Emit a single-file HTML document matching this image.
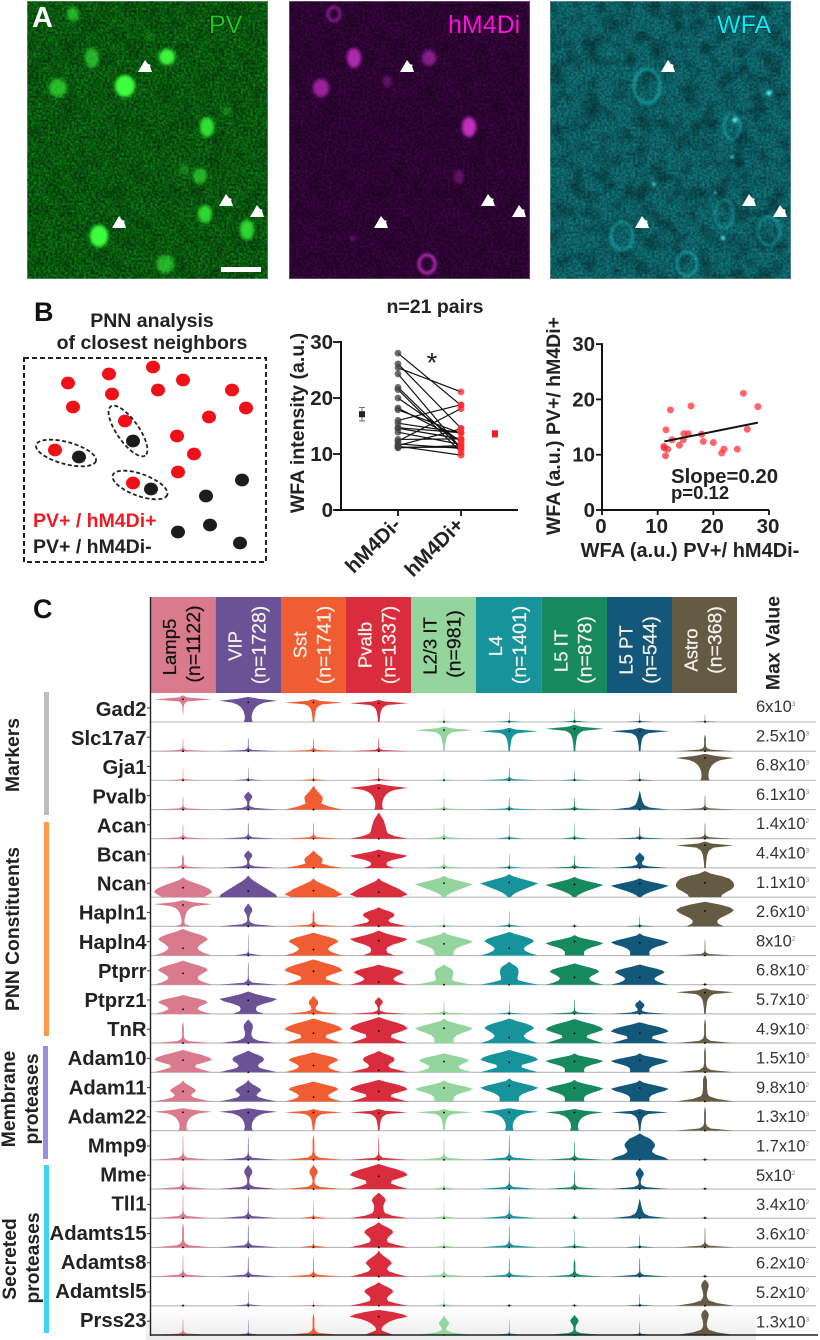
<!DOCTYPE html>
<html lang="en">
<head>
<meta charset="utf-8">
<title>PNN analysis figure</title>
<style>
  html, body { margin: 0; padding: 0; background: #fff; }
  svg { display: block; font-family: "Liberation Sans", Arial, sans-serif; }
  .b { font-weight: 700; fill: #222; }
</style>
</head>
<body>
<svg id="fig" xmlns="http://www.w3.org/2000/svg" width="820" height="1340" viewBox="0 0 820 1340">
  <defs>
    <filter id="noise-green" x="0" y="0" width="1" height="1" color-interpolation-filters="sRGB">
      <feTurbulence type="fractalNoise" baseFrequency="0.42" numOctaves="2" seed="3"/>
      <feColorMatrix type="matrix" values="0 0 0 0 0.035  0.62 0 0 0 0.04  0 0 0 0 0.06  0 0 0 0 1"/>
    </filter>
    <filter id="noise-magenta" x="0" y="0" width="1" height="1" color-interpolation-filters="sRGB">
      <feTurbulence type="fractalNoise" baseFrequency="0.42" numOctaves="2" seed="8"/>
      <feColorMatrix type="matrix" values="0.32 0 0 0 0.02  0 0 0 0 0.015  0.34 0 0 0 0.035  0 0 0 0 1"/>
    </filter>
    <filter id="noise-cyan" x="0" y="0" width="1" height="1" color-interpolation-filters="sRGB">
      <feTurbulence type="fractalNoise" baseFrequency="0.42" numOctaves="2" seed="14"/>
      <feColorMatrix type="matrix" values="0 0 0 0 0.05  0.42 0 0 0 0.17  0.42 0 0 0 0.19  0 0 0 0 1"/>
    </filter>
    <filter id="blotch" x="0" y="0" width="1" height="1" color-interpolation-filters="sRGB">
      <feTurbulence type="fractalNoise" baseFrequency="0.06" numOctaves="2" seed="21"/>
      <feColorMatrix type="matrix" values="0 0 0 0 0  0 0 0 0 0  0 0 0 0 0  2.4 0 0 0 -1.05"/>
    </filter>
    <filter id="blur-cell" x="-60%" y="-60%" width="220%" height="220%"><feGaussianBlur stdDeviation="1.7"/></filter>
    <filter id="blur-ring" x="-40%" y="-40%" width="180%" height="180%"><feGaussianBlur stdDeviation="1.2"/></filter>
    <clipPath id="clip-panel"><rect x="0" y="0" width="241" height="278"/></clipPath>
    <linearGradient id="bottom-shade" x1="0" y1="0" x2="0" y2="1">
      <stop offset="0" stop-color="#ffffff"/><stop offset="1" stop-color="#ececec"/>
    </linearGradient>
  </defs>

  <!-- PANEL A -->
  <g id="panel-a"></g>
  <text x="32" y="27" font-size="29" font-weight="700" fill="#fff">A</text>
  <text x="209" y="33" font-size="25" fill="#20c825" stroke="#021005" stroke-width="1" paint-order="stroke">PV</text>
  <text x="448" y="33" font-size="25" fill="#ff10e0" stroke="#200020" stroke-width="1" paint-order="stroke">hM4Di</text>
  <text x="717" y="33" font-size="25" fill="#0ee8f2" stroke="#02282c" stroke-width="1" paint-order="stroke">WFA</text>
  <rect x="221" y="267" width="40" height="5" fill="#fff"/>

  <!-- PANEL B schematic -->
  <text x="34" y="321" font-size="27" font-weight="700" fill="#111">B</text>
  <text class="b" x="152" y="327" font-size="19.5" text-anchor="middle">PNN analysis</text>
  <text class="b" x="152" y="349" font-size="19.5" text-anchor="middle">of closest neighbors</text>
  <rect x="24" y="358" width="242" height="204" fill="none" stroke="#222" stroke-width="2" stroke-dasharray="5 3"/>
  <g id="schematic"></g>
  <text x="33" y="527" font-size="19.5" font-weight="700" fill="#ee1c25">PV+ / hM4Di+</text>
  <text x="33" y="553" font-size="19.5" font-weight="700" fill="#222">PV+ / hM4Di-</text>

  <!-- paired chart -->
  <text class="b" x="435" y="313" font-size="19.5" text-anchor="middle">n=21 pairs</text>
  <g id="paired"></g>
  <text transform="translate(304 423) rotate(-90)" font-size="19.5" font-weight="700" fill="#222" text-anchor="middle">WFA intensity (a.u.)</text>
  <text x="432" y="372" font-size="28" font-weight="400" fill="#222" text-anchor="middle">*</text>

  <!-- scatter chart -->
  <g id="scatter"></g>
  <text transform="translate(560 426) rotate(-90)" font-size="19.5" font-weight="700" fill="#222" text-anchor="middle">WFA (a.u.) PV+/ hM4Di+</text>
  <text class="b" x="690" y="557" font-size="20" text-anchor="middle">WFA (a.u.) PV+/ hM4Di-</text>
  <text class="b" x="671" y="483" font-size="20.4">Slope=0.20</text>
  <text class="b" x="671" y="499" font-size="18.5">p=0.12</text>

  <!-- PANEL C -->
  <text x="33" y="618" font-size="27" font-weight="700" fill="#111">C</text>
  <rect x="146" y="1306" width="610" height="34" fill="url(#bottom-shade)"/>
  <g id="violins"></g>
  <text transform="translate(779.5 643) rotate(-90)" font-size="19.5" font-weight="700" fill="#222" text-anchor="middle">Max Value</text>

  <rect x="44" y="692" width="5" height="123" fill="#bdbdbd"/>
  <rect x="44" y="822" width="5" height="214" fill="#fd9a4e"/>
  <rect x="43" y="1046" width="5" height="113" fill="#9a8ee0"/>
  <rect x="44" y="1165" width="5" height="168" fill="#3fd3f5"/>
  <text class="b" transform="translate(19 755) rotate(-90)" font-size="19.3" text-anchor="middle">Markers</text>
  <text class="b" transform="translate(19 929) rotate(-90)" font-size="19.3" text-anchor="middle">PNN Constituents</text>
  <text class="b" transform="translate(15 1099) rotate(-90)" font-size="19.3" text-anchor="middle">Membrane</text>
  <text class="b" transform="translate(38 1099) rotate(-90)" font-size="19.3" text-anchor="middle">proteases</text>
  <text class="b" transform="translate(16 1259) rotate(-90)" font-size="19.3" text-anchor="middle">Secreted</text>
  <text class="b" transform="translate(39 1258) rotate(-90)" font-size="19.3" text-anchor="middle">proteases</text>

<script>
/* ---------- paired / scatter data ---------- */
const wfaNegative = [25.4,28,16,12.3,11.5,26.1,14.7,15.5,17.9,12.6,14.6,18.2,20,13.9,11.1,11.8,11.2,21.9,24.3,21.5,11.4];
const wfaPositive = [21.1,18.7,18.8,18.1,14.5,14.6,13.8,13.8,13.7,12.7,12.7,12.4,12.2,11.7,11.5,11,11.2,11,11,10.3,9.8];
const meanValues = [17.1,13.6];
const meanErrors = [1.2,0.6];
const pairCategories = ['hM4Di-','hM4Di+'];
const axisTicks = [0,10,20,30];
const fitLineX = [11.2,28];
const fitLineY = [12.4,15.8];

/* ---------- violin data ---------- */
const cellTypes = ['Lamp5','VIP','Sst','Pvalb','L2/3 IT','L4','L5 IT','L5 PT','Astro'];
const cellCounts = ['(n=1122)','(n=1728)','(n=1741)','(n=1337)','(n=981)','(n=1401)','(n=878)','(n=544)','(n=368)'];
const genes = ['Gad2','Slc17a7','Gja1','Pvalb','Acan','Bcan','Ncan','Hapln1','Hapln4','Ptprr','Ptprz1','TnR','Adam10','Adam11','Adam22','Mmp9','Mme','Tll1','Adamts15','Adamts8','Adamtsl5','Prss23'];
const maxValueBases = ['6x10','2.5x10','6.8x10','6.1x10','1.4x10','4.4x10','1.1x10','2.6x10','8x10','6.8x10','5.7x10','4.9x10','1.5x10','9.8x10','1.3x10','1.7x10','5x10','3.4x10','3.6x10','6.2x10','5.2x10','1.3x10'];
const maxValueExps = [3,3,3,3,2,3,3,3,2,2,2,2,3,2,3,2,2,2,2,2,2,3];

/* density of cells at evenly spaced expression levels (bottom to top) */
const densityNone = [0.12,0.01,0];
const densityFaint = [0.5,0.04,0.012,0.008,0.008,0.008,0.008,0.008,0.006,0.006,0.004,0];
const densitySpike = [1,0.14,0.04,0.018,0.014,0.012,0.012,0.012,0.01,0.01,0.008,0];
const densitySpikeBold = [1,0.2,0.07,0.04,0.03,0.03,0.03,0.03,0.03,0.025,0.015,0];
const densityBulb = [1,0.22,0.06,0.035,0.035,0.05,0.08,0.13,0.14,0.11,0.05,0];
const densityBulbFat = [1,0.3,0.1,0.07,0.09,0.14,0.16,0.15,0.1,0.04,0];
const densityBulbDia = [1,0.32,0.09,0.07,0.12,0.18,0.15,0.09,0.03,0];
const densityBulbTall = [1,0.42,0.14,0.08,0.06,0.07,0.09,0.12,0.13,0.09,0];
const densityColumn = [1,0.36,0.17,0.12,0.11,0.12,0.15,0.16,0.14,0.07,0];
const densityThickCol = [1,0.42,0.14,0.09,0.08,0.07,0.07,0.07,0.07,0.05,0];
const densityCone = [1,0.34,0.17,0.12,0.09,0.07,0.05,0.035,0.02,0];
const densityTower = [1,0.55,0.32,0.27,0.25,0.23,0.2,0.17,0.12,0.06,0];
const densityPillar = [1,0.46,0.22,0.17,0.16,0.16,0.2,0.24,0.2,0.1,0];
const densityDome = [1,0.55,0.27,0.3,0.32,0.25,0.15,0.07,0];
const densityDomeA = [1,0.62,0.32,0.28,0.32,0.42,0.5,0.45,0.3,0.12,0];
const densityDomeB = [1,0.62,0.35,0.28,0.35,0.45,0.4,0.28,0.15,0.05,0];
const densityDomeWide = [1,0.7,0.4,0.33,0.38,0.5,0.55,0.5,0.35,0.15,0];
const densityDomeBig = [1,0.85,0.55,0.42,0.45,0.52,0.52,0.45,0.35,0.15,0];
const densityThinDome = [1,0.6,0.3,0.28,0.3,0.32,0.32,0.3,0.24,0.1,0];
const densityTip = [0,0,0,0,0.008,0.012,0.016,0.02,0.03,0.06,0.14,1,0.14,0];
const densitySpindle = [0.03,0.03,0.035,0.04,0.05,0.06,0.07,0.09,0.12,0.18,0.3,1,0.22,0];
const densitySpindleFat = [0.16,0.13,0.12,0.12,0.13,0.15,0.18,0.22,0.28,0.38,0.55,1,0.38,0];
const densitySpindleFlare = [0.3,0.07,0.05,0.05,0.06,0.08,0.1,0.13,0.17,0.25,0.42,1,0.3,0];
const densityPrss = [0.5,0.3,0.1,0.1,0.16,0.26,0.4,0.62,1,0.85,0.5,0];
const densityHourglass = [1,0.72,0.55,0.5,0.58,0.72,0.86,0.78,0.55,0.25,0];
const densityHourglassW = [1,0.68,0.42,0.45,0.75,1,0.9,0.65,0.3,0];
const densityMushroom = [0.34,0.33,0.34,0.42,0.6,0.85,1,0.75,0.42,0.12,0];
const densityMushW = [0.55,0.3,0.26,0.3,0.5,0.82,1,0.6,0.25,0];
const densityTriangle = [1,0.95,0.8,0.65,0.5,0.35,0.2,0.08,0];
const densityBarrel = [0.72,0.88,1,0.95,0.8,0.6,0.35,0.12,0];
const densityRoof = [0.75,1,0.85,0.7,0.5,0.3,0.1,0];
const densityDiamond = [0.05,0.12,0.25,0.42,0.62,0.82,1,0.72,0.42,0.15,0];
const densityBlob = [0.55,0.6,0.75,0.92,1,1,0.95,0.85,0.6,0.2,0];
const densityFlatTop = [0.65,0.45,0.42,0.52,0.72,0.9,1,0.85,0.5,0];

const none=densityNone, faint=densityFaint, spike=densitySpike, spikeB=densitySpikeBold, bulb=densityBulb, bulbF=densityBulbFat, bulbD=densityBulbDia, bulbT=densityBulbTall, col=densityColumn, thick=densityThickCol, cone=densityCone, tower=densityTower, pillar=densityPillar, dome=densityDome, domeA=densityDomeA, domeB=densityDomeB, domeW=densityDomeWide, domeBig=densityDomeBig, thinD=densityThinDome, tip=densityTip, spin=densitySpindle, spinF=densitySpindleFat, spinL=densitySpindleFlare, prss=densityPrss, hg=densityHourglass, hgW=densityHourglassW, mush=densityMushroom, mushW=densityMushW, tri=densityTriangle, barrel=densityBarrel, roof=densityRoof, dia=densityDiamond, blob=densityBlob, flatT=densityFlatTop;

const violinShapes = [
  [tip,spinF,spin,spin,faint,faint,faint,faint,faint],
  [spike,spike,spike,spike,spin,spin,spin,spin,spikeB],
  [faint,faint,faint,faint,faint,spike,faint,faint,spinF],
  [spike,bulb,dome,spinF,spike,spike,spike,cone,spike],
  [spike,spike,spike,tower,spike,faint,faint,spike,spike],
  [spikeB,bulb,dome,mushW,spike,faint,spike,bulbF,spin],
  [barrel,tri,roof,roof,dia,dia,dia,dia,blob],
  [spinL,bulb,spikeB,domeW,faint,faint,none,faint,flatT],
  [hg,faint,hg,mushW,mush,hg,mush,mush,spike],
  [hg,spike,hgW,hg,thinD,thinD,hg,hg,none],
  [hg,mushW,bulbF,bulb,spike,faint,spike,bulbF,spin],
  [spikeB,col,hgW,hgW,mush,hg,hgW,hgW,spikeB],
  [hgW,domeW,hg,domeW,hg,hgW,mush,mush,spikeB],
  [domeB,domeB,hg,hgW,mush,mush,mush,mush,thick],
  [spinF,spinF,spin,spin,spin,spinF,spinF,spin,spikeB],
  [spike,spike,spikeB,spike,spike,spike,spike,domeBig,none],
  [spike,bulb,bulb,hgW,faint,spike,spike,bulb,none],
  [spike,spike,faint,pillar,faint,spike,none,cone,none],
  [spikeB,spike,faint,domeA,faint,spike,faint,faint,spike],
  [spike,spike,spike,domeB,spike,spike,spikeB,spike,none],
  [none,faint,faint,domeA,faint,none,none,faint,bulbT],
  [spike,faint,spikeB,prss,bulbD,faint,bulb,faint,bulbT]
];
const violinTops = [
  [.99,.93,.85,.82,.45,.4,.5,.35,.3],
  [.47,.5,.5,.5,.92,.87,.98,.87,.62],
  [.5,.5,.5,.5,.4,.5,.4,.35,.98],
  [.5,.67,.88,.95,.45,.45,.45,.7,.55],
  [.55,.6,.6,.97,.6,.6,.6,.45,.6],
  [.5,.65,.65,.68,.55,.55,.5,.58,.98],
  [.73,.8,.69,.7,.79,.85,.75,.7,.97],
  [.97,.85,.6,.7,.5,.6,.1,.4,.91],
  [.98,.82,.85,.92,.87,.87,.76,.82,.6],
  [.89,.85,.94,.74,.75,.85,.79,.75,.1],
  [.7,.83,.68,.62,.5,.5,.55,.52,.95],
  [.79,.88,.91,.96,.91,.91,.89,.77,.9],
  [.83,.8,.74,.79,.7,.83,.7,.7,.95],
  [.78,.8,.74,.8,.78,.85,.8,.78,.98],
  [.83,.83,.8,.8,.8,.83,.8,.8,.9],
  [.92,.85,.92,.85,.8,.95,.7,.98,.1],
  [.85,.9,.9,.93,.7,.85,.75,.8,.1],
  [.9,.85,.7,.95,.7,.85,.2,.72,.1],
  [.9,.85,.75,.93,.7,.85,.7,.5,.75],
  [.8,.75,.75,.97,.7,.7,.65,.7,.1],
  [.1,.6,.2,.87,.6,.1,.1,.45,.97],
  [.6,.6,.8,.93,.74,.6,.74,.5,.95]
];
const violinMedians = [
  [.84,.73,.72,.70,0,0,0,0,0],
  [0,0,0,0,.78,.74,.83,.74,0],
  [0,0,0,0,0,0,0,0,.83],
  [0,0,0,.79,0,0,0,0,0],
  [0,0,0,0,0,0,0,0,0],
  [0,0,0,.45,0,0,0,0,.84],
  [.35,.22,.24,.18,.52,.55,.47,.5,.53],
  [.79,0,0,0,0,0,0,0,.57],
  [.27,0,.22,.55,.43,.27,.52,.47,0],
  [.42,0,.5,.1,0,0,.27,.27,0],
  [.17,.5,0,0,0,0,0,0,.79],
  [0,0,.37,.45,.55,.2,.36,.37,0],
  [.45,0,.25,.07,.4,.37,.4,.45,0],
  [.37,.37,.16,.37,.5,.58,.5,.5,0],
  [.68,.67,.67,.65,.67,.68,.67,.67,0],
  [0,0,0,0,0,0,0,0,0],
  [0,0,0,.47,0,0,0,0,0],
  [0,0,0,0,0,0,0,0,0],
  [0,0,0,0,0,0,0,0,0],
  [0,0,0,0,0,0,0,0,0],
  [0,0,0,0,0,0,0,0,0],
  [0,0,0,.68,0,0,0,0,0]
];

const NS = 'http://www.w3.org/2000/svg';
function make(parent, tag, attrs, text) {
  const e = document.createElementNS(NS, tag);
  for (const k in attrs) e.setAttribute(k, attrs[k]);
  if (text !== undefined) e.textContent = text;
  parent.appendChild(e);
  return e;
}

/* ---------- Panel A ---------- */
const panelA = document.getElementById('panel-a');
const panelOrigins = [27,289,550];
const panelNoise = ['noise-green','noise-magenta','noise-cyan'];
const panelNames = ['pv-micrograph','hm4di-micrograph','wfa-micrograph'];
const panelColors = ['#3dff3d','#f53cf0','#22e6e6'];
const panelBlotch = [.22,.25,.42];
const greenCells = [[46,13,6,7,.55],[65,57,7,10,.55],[140,56,8,8,.95],[98,85,10,11,1],[31,87,9,9,.6],[180,126,7,10,.8],[200,110,5,5,.25],[173,175,7,8,.55],[157,168,5,6,.25],[178,213,7,9,.75],[220,229,7,10,.75],[72,235,9,11,1],[138,263,9,9,.55],[123,35,5,5,.15]];
const magentaCells = [[65,57,7,10,.65],[140,57,7,8,.45],[98,80,5,6,.25],[32,87,8,9,.55],[180,126,7,10,.75],[170,176,5,7,.25],[64,237,3,3,.25]];
const magentaRings = [[45,13,6,7,.45],[138,263,8,9,.7]];
const cyanRings = [[97,85,13,17,.45],[182,125,8,13,.35],[72,235,11,14,.4],[174,213,9,14,.3],[219,230,11,14,.35],[137,263,10,12,.4],[65,57,8,10,.12]];
const cyanSpots = [[185,119,2.5],[219,92,2.5],[173,237,2],[104,183,1.5],[182,156,1.5],[165,192,1.2]];
const arrowSpots = [[118,65],[92,221],[199,199],[230,210]];

panelOrigins.forEach(function (px, i) {
  const g = make(panelA, 'g', {transform: 'translate(' + px + ' 1)', 'clip-path': 'url(#clip-panel)'});
  
  
  make(g, 'rect', {x: 0, y: 0, width: 241, height: 278, filter: 'url(#' + panelNoise[i] + ')'});
  make(g, 'rect', {x: 0, y: 0, width: 241, height: 278, filter: 'url(#blotch)', opacity: panelBlotch[i]});
  const color = panelColors[i];
  if (i === 0) greenCells.forEach(function (c) {
    const cell = make(g, 'ellipse', {cx: c[0], cy: c[1], rx: c[2], ry: c[3], fill: color, opacity: c[4], filter: 'url(#blur-cell)'});
    
    
  });
  if (i === 1) {
    magentaCells.forEach(function (c) {
      const cell = make(g, 'ellipse', {cx: c[0], cy: c[1], rx: c[2], ry: c[3], fill: color, opacity: c[4], filter: 'url(#blur-cell)'});
      
      
    });
    magentaRings.forEach(function (c) {
      const ring = make(g, 'ellipse', {cx: c[0], cy: c[1], rx: c[2], ry: c[3], fill: 'none', stroke: color, 'stroke-width': 3, opacity: c[4], filter: 'url(#blur-ring)'});
      
      
    });
  }
  if (i === 2) {
    cyanRings.forEach(function (c) {
      const ring = make(g, 'ellipse', {cx: c[0], cy: c[1], rx: c[2], ry: c[3], fill: 'none', stroke: color, 'stroke-width': 2.8, opacity: c[4], filter: 'url(#blur-ring)'});
      
      
    });
    cyanSpots.forEach(function (c) {
      const spot = make(g, 'circle', {cx: c[0], cy: c[1], r: c[2], fill: '#5ffbfb', filter: 'url(#blur-ring)'});
      
      
    });
  }
  arrowSpots.forEach(function (a) {
    const arrow = make(g, 'polygon', {points: [[a[0]-7,a[1]+6],[a[0]+7,a[1]+6],[a[0]+5,a[1]],[a[0]+6,a[1]-1],[a[0]+3,a[1]-2],[a[0],a[1]-6]].join(' '), fill: '#fff'});
    
    
  });
  const frame = make(g, 'rect', {x: .5, y: .5, width: 240, height: 277, fill: 'none', stroke: 'rgba(255,255,255,.25)'});
  
  
});

/* ---------- schematic ---------- */
const schematic = document.getElementById('schematic');
const redNeurons = [[68,383],[109,374],[153,367],[183,380],[158,390],[112,394],[73,407],[232,390],[246,408],[209,417],[177,436],[125,421],[194,454],[178,472],[55,450],[133,483]];
const blackNeurons = [[133,441],[79,457],[151,489],[206,496],[242,480],[210,525],[178,532],[240,543]];
const pairEllipses = [[128,431,30,11,55],[66,453,31,11,15],[140,485,29,11,20]];
redNeurons.forEach(function (p) {
  const n = make(schematic, 'ellipse', {cx: p[0], cy: p[1], rx: 7, ry: 6.4, fill: '#f01018'});
  
  
});
blackNeurons.forEach(function (p) {
  const n = make(schematic, 'ellipse', {cx: p[0], cy: p[1], rx: 7, ry: 6.4, fill: '#1d1b1b'});
  
  
});
pairEllipses.forEach(function (p) {
  const n = make(schematic, 'ellipse', {cx: 0, cy: 0, rx: p[2], ry: p[3], fill: 'none', stroke: '#222', 'stroke-width': 1.8, 'stroke-dasharray': '4 2.5', transform: 'translate(' + p[0] + ' ' + p[1] + ') rotate(' + p[4] + ')'});
  
  
});

/* ---------- paired chart ---------- */
const paired = document.getElementById('paired');
function pairY(v) { return 510 - v * 5.6; }
function pairX(i) { return 398 + i * 63; }
function meanX(i) { return 362 + i * 133; }
axisTicks.forEach(function (t) {
  const tick = make(paired, 'line', {x1: 333, x2: 341, y1: pairY(t), y2: pairY(t), stroke: '#111', 'stroke-width': 1.8});
  
  
  const label = make(paired, 'text', {x: 333, y: pairY(t) + 7, 'text-anchor': 'end', 'font-size': 20.5, 'font-weight': 700, fill: '#222'}, String(t));
  
  
});
const pairYAxis = make(paired, 'line', {x1: 341, x2: 341, y1: pairY(30) - 1, y2: pairY(0) + 1, stroke: '#111', 'stroke-width': 2});


const pairXAxis = make(paired, 'line', {x1: 335, x2: 518, y1: pairY(0), y2: pairY(0), stroke: '#111', 'stroke-width': 2});


pairCategories.forEach(function (c, i) {
  const tick = make(paired, 'line', {x1: pairX(i), x2: pairX(i), y1: 510, y2: 516, stroke: '#111', 'stroke-width': 1.8});
  
  
  const label = make(paired, 'text', {transform: 'translate(' + (pairX(i) + 4) + ' 526) rotate(-45)', 'text-anchor': 'end', 'font-size': 20.5, 'font-weight': 700, fill: '#222'}, c);
  
  
});
wfaNegative.forEach(function (v, i) {
  const line = make(paired, 'line', {x1: pairX(0), y1: pairY(v), x2: pairX(1), y2: pairY(wfaPositive[i]), stroke: '#111', 'stroke-width': 1.2});
  
  
});
wfaNegative.forEach(function (v) {
  const d = make(paired, 'circle', {cx: pairX(0), cy: pairY(v), r: 3.4, fill: '#444', opacity: .78});
  
  
});
wfaPositive.forEach(function (v) {
  const d = make(paired, 'circle', {cx: pairX(1), cy: pairY(v), r: 3.4, fill: '#ff2a30', opacity: .78});
  
  
});
meanValues.forEach(function (v, i) {
  const colr = i === 0 ? '#222' : '#ee1c25';
  const x = meanX(i);
  const err = make(paired, 'path', {d: 'M' + (x-3) + ' ' + pairY(v + meanErrors[i]) + 'H' + (x+3) + 'M' + x + ' ' + pairY(v + meanErrors[i]) + 'V' + pairY(v - meanErrors[i]) + 'M' + (x-3) + ' ' + pairY(v - meanErrors[i]) + 'H' + (x+3), stroke: colr, 'stroke-width': .8, fill: 'none', opacity: .8});
  
  
  const m = make(paired, 'rect', {x: x - 3, y: pairY(v) - 3, width: 6, height: 6, fill: colr});
  
  
});

/* ---------- scatter chart ---------- */
const scatter = document.getElementById('scatter');
function sx(v) { return 602 + v * 5.567; }
function sy(v) { return 510 - v * 5.53; }
axisTicks.forEach(function (t) {
  const ty = make(scatter, 'line', {x1: 596, x2: 602, y1: sy(t), y2: sy(t), stroke: '#111', 'stroke-width': 1.8});
  
  
  const ly = make(scatter, 'text', {x: 595, y: sy(t) + 7, 'text-anchor': 'end', 'font-size': 20.5, 'font-weight': 700, fill: '#222'}, String(t));
  
  
  const tx = make(scatter, 'line', {x1: sx(t), x2: sx(t), y1: 510, y2: 515, stroke: '#111', 'stroke-width': 1.8});
  
  
  const lx = make(scatter, 'text', {x: sx(t) - 1, y: 533, 'text-anchor': 'middle', 'font-size': 20.5, 'font-weight': 700, fill: '#222'}, String(t));
  
  
});
const scatterYAxis = make(scatter, 'line', {x1: 602, x2: 602, y1: sy(30) - 1, y2: sy(0) + 1, stroke: '#111', 'stroke-width': 2});


const scatterXAxis = make(scatter, 'line', {x1: 602, x2: sx(30), y1: 510, y2: 510, stroke: '#111', 'stroke-width': 2});


wfaNegative.forEach(function (v, i) {
  const d = make(scatter, 'circle', {cx: sx(v), cy: sy(wfaPositive[i]), r: 3.5, fill: '#ff2a30', opacity: .72});
  
  
});
const fit = make(scatter, 'line', {x1: sx(fitLineX[0]), y1: sy(fitLineY[0]), x2: sx(fitLineX[1]), y2: sy(fitLineY[1]), stroke: '#111', 'stroke-width': 2});



/* ---------- violin matrix ---------- */
const violins = document.getElementById('violins');
const cellColors = ['#d97b8c','#6b5297','#f15d32','#d92c3c','#93d59c','#17939c','#16895f','#13587a','#655a44'];
const headerEdges = [150,215.7,281,345.7,411,476,541.7,607,672,737];
const headerLight = [false,true,true,true,false,true,true,true,true];
const headerNameCenter = [647,646,645,645,646,646,651,650,650];
const headerCountCenter = [644,645,645,645,644,645,650,650,640];
function colX(c) { return 183 + c * 65.25; }
function rowBase(r) { return 722 + r * 29.19; }
function rowLevel(r, v) { return rowBase(r) - v * 27; }
const VIOLIN_HALF = 29;

cellTypes.forEach(function (t, c) {
  const x0 = headerEdges[c];
  const w = headerEdges[c + 1] - x0;
  const h = make(violins, 'rect', {x: x0, y: 597, width: w, height: 96, fill: cellColors[c]});
  
  
  const textFill = headerLight[c] ? '#f4f1ea' : '#111';
  const mid = x0 + w / 2;
  const n1 = make(violins, 'text', {transform: 'translate(' + (mid - 7) + ' ' + headerNameCenter[c] + ') rotate(-90)', 'text-anchor': 'middle', 'font-size': 18.5, fill: textFill, stroke: textFill, 'stroke-width': .25}, t);
  
  
  const n2 = make(violins, 'text', {transform: 'translate(' + (mid + 17) + ' ' + headerCountCenter[c] + ') rotate(-90)', 'text-anchor': 'middle', 'font-size': 19.5, fill: textFill, stroke: textFill, 'stroke-width': .25}, cellCounts[c]);
  
  
});

genes.forEach(function (g, r) {
  const base = rowBase(r);
  if (r < genes.length - 1) {
    const grid = make(violins, 'line', {x1: 150, x2: 816, y1: base, y2: base, stroke: '#b8b8b8', 'stroke-width': 1.1});
    
    
  }
  const label = make(violins, 'text', {x: 146.5, y: 716 + r * 29.1, 'text-anchor': 'end', 'font-size': 20.3, 'font-weight': 700, fill: '#222'}, g);
  
  
  const tick = make(violins, 'line', {x1: 147, x2: 150, y1: 708 + r * 29.2, y2: 708 + r * 29.2, stroke: '#333', 'stroke-width': 1});
  
  
  const mv = make(violins, 'text', {x: 756, y: 712 + r * 29.3, 'font-size': 16.5, fill: '#333'});
  
  
  make(mv, 'tspan', {}, maxValueBases[r]);
  make(mv, 'tspan', {dy: -6, 'font-size': 6.5, fill: '#777'}, String(maxValueExps[r]));

  cellTypes.forEach(function (t, c) {
    const shape = violinShapes[r][c];
    const top = violinTops[r][c];
    const cx = colX(c);
    const left = [], right = [];
    shape.forEach(function (d, k) {
      const y = rowLevel(r, top * k / (shape.length - 1));
      left.push((cx - d * VIOLIN_HALF).toFixed(2) + ',' + y.toFixed(2));
      right.unshift((cx + d * VIOLIN_HALF).toFixed(2) + ',' + y.toFixed(2));
    });
    const v = make(violins, 'polygon', {points: left.concat(right).join(' '), fill: cellColors[c]});
    
    
    const m = make(violins, 'circle', {cx: cx, cy: rowLevel(r, violinMedians[r][c]), r: .9, fill: '#000'});
    
    
  });
});
const vAxis = make(violins, 'line', {x1: 150.5, x2: 150.5, y1: 597, y2: 1336, stroke: '#222', 'stroke-width': 1.4});


const hAxis = make(violins, 'line', {x1: 150, x2: 818, y1: rowBase(21), y2: rowBase(21), stroke: '#222', 'stroke-width': 1.4});


</script>
</svg>
</body>
</html>
